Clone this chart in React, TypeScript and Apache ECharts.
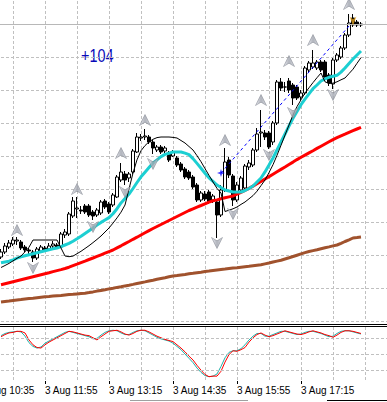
import React, { useEffect, useRef } from "react";
import * as echarts from "echarts";

// ---- layout of the time axis (5-minute bars) ----
const BAR_OFFSET = 5; // empty slots 10:35 .. 10:55 before the first visible bar
const SLOT_COUNT = 103;
const START_MINUTE = 10 * 60 + 35;
const categories = Array.from({ length: SLOT_COUNT }, (_, k) => {
  const t = START_MINUTE + 5 * k;
  const h = Math.floor(t / 60);
  const m = t % 60;
  return `3 Aug ${h}:${String(m).padStart(2, "0")}`;
});

// ---- candles (price in points) ----
const opens = [64,69,74,77,80,79,74,71,69,63,70,73,72,75,76,74,86,87,105,112,111,115,115,109,106,108,120,117,116,124,141,147,143,149,169,183,184,184,179,171,174,170,168,165,163,157,152,149,144,136,121,127,129,121,119,106,131,161,145,121,131,133,154,156,171,188,188,188,179,198,239,234,240,236,234,224,228,251,254,253,259,259,246,237,261,264,273,286,303,299,296];
const closes = [69,75,78,81,81,73,71,70,63,72,74,71,75,77,74,87,89,107,120,113,110,109,106,105,111,119,114,109,126,144,149,141,147,170,184,184,185,179,173,174,169,173,161,169,156,151,144,143,134,121,128,122,119,125,106,131,159,146,121,136,143,155,158,171,187,189,184,174,198,239,233,234,231,223,223,228,253,258,258,259,251,244,238,261,266,273,286,298,296,296,297];
const lows = [62,67,72,75,76,71,69,67,59,61,68,69,71,73,72,73,83,85,103,103,107,107,104,101,104,106,112,107,114,123,139,136,139,147,168,180,181,177,167,169,167,168,159,164,154,149,142,141,132,119,119,120,117,118,83,104,129,143,115,119,128,131,151,154,169,174,181,172,176,196,230,229,228,216,221,221,226,249,252,251,249,242,235,232,259,262,271,284,294,294,294];
const highs = [72,78,81,84,84,81,76,73,71,74,76,75,78,80,78,89,92,109,124,124,115,117,117,111,113,121,122,119,128,146,158,150,149,172,188,187,192,186,181,176,176,175,170,171,165,159,154,151,146,138,130,130,131,127,121,136,173,164,147,139,145,157,161,173,193,211,191,190,200,241,243,239,243,238,236,231,255,260,271,261,261,261,248,263,268,275,288,307,307,301,299];
const lastClose = 297;

// ---- moving averages ----
const maBlack = [53.5,55.5,57.6,60.1,62.7,65,69.2,73.8,81,81,81,81,81,81,81,73,65,64.3,64.9,67.3,69.7,72.5,75.3,78.4,81.6,85,89,93,97.9,103.1,108.8,116,132,148,161.2,170.3,175.4,179.2,181.7,183.4,184,184,184,183.6,183,180.5,178,174.5,171,165.3,159.3,152.4,145.7,139,132.6,128,109.5,110.8,112.2,114,116.6,119,122.2,125.4,129.8,135.4,141,148.4,156.3,165.7,175.7,185.9,196,206,214.4,221.2,228,233.2,238.4,243.3,248,239.2,237.6,237.8,239.2,241.2,243,247.4,251.8,257.7,263.4];
const maCyan = [58.2,59,59.8,61.2,62.8,64.2,65.2,66.2,67.2,68.2,69.2,70.2,71.2,72.2,73,74.4,76,77.6,79.8,82.2,84.7,87.5,90.3,93.1,95.9,98.6,101,103.4,107.3,112.3,118.1,122.5,126.9,132.5,138.5,144.2,148.8,153.4,158,161.2,164.4,166.6,167.8,169,169,169,167.9,166.4,162.4,157.6,152.8,147.8,143.1,139.6,136,133.5,131,130,129,129,129,130.5,132.5,135,139,143,149.1,155.9,163,171,179,187,195,202.7,209.5,216.3,221.9,227.1,232.3,236,240,242.1,243.7,244.7,245.7,248.9,253,257.6,262,266,270];
const maRed = [36.3,37.3,38.3,39.3,40.3,41.3,42.3,43.3,44.3,45.3,46.3,47.3,48.3,49.4,50.4,51.4,52.5,53.8,55.3,56.8,58.4,59.9,61.5,63,64.6,66.2,67.8,69.4,71,73.1,75.2,77.4,79.5,81.7,83.8,86,88.2,90.4,92.5,94.5,96.5,98.5,100.5,102.5,104.5,106.5,108.5,110.5,112.2,113.9,115.5,117.2,118.9,120.2,121.1,122.2,123.2,124.1,125,126.9,128.7,130.6,132.6,134.9,137.2,139.6,142,144.4,146.8,149.2,151.6,154,156.5,158.9,161.4,163.7,165.9,168.1,170.3,172.6,174.8,177,179.2,181.4,183.3,185.1,186.8,188.6,190.3,192,193.7];
const maBrown = [19.1,19.6,20,20.5,21,21.4,21.9,22.4,22.8,23.3,23.8,24.2,24.5,24.9,25.3,25.6,26,26.4,26.7,27.1,27.5,27.8,28.4,29.1,29.9,30.6,31.3,32.1,32.8,33.6,34.3,35.1,35.8,36.6,37.5,38.3,39.1,40,40.8,41.7,42.5,43.3,44.2,45,45.5,46.1,46.6,47.2,47.7,48.3,48.8,49.4,49.9,50.5,51,51.5,51.9,52.4,52.9,53.3,53.8,54.3,54.7,55.2,55.7,56.2,57.1,58,59,59.9,60.8,62,63.2,64.5,65.8,67.1,68.4,69.5,70.4,71.3,72.3,73.2,74.1,75.1,76,77.7,79.5,81.2,83,83.4,83.9];

// ---- oscillator (0..100) ----
const oscMain = [82,86,89,90,92,92,89,76,67,62,61,67,72,76,80,84,88,92,91,89,87,85,84,80,76,82,87,92,93,94,91,87,85,88,92,94,94,91,87,83,80,77,75,73,67,61,54,46,39,29,20,12,8,9,9,18,35,49,56,55,58,62,72,80,86,89,85,82,84,87,90,93,91,89,87,86,88,91,93,91,89,86,84,81,85,90,93,93,92,90,88];
const oscSignal = [84,88,90,91,92,91,83,71,64,61,63,70,74,78,82,86,90,92,90,88,86,84,82,78,79,85,90,93,94,93,89,86,86,90,93,94,93,89,85,81,78,76,74,70,64,58,50,42,34,24,16,10,8,9,13,27,43,53,56,56,60,67,76,83,88,88,83,83,86,89,92,92,90,88,86,87,90,92,92,90,88,85,82,83,88,92,93,93,91,89,87];
const oscLevels = [20, 50, 80];

// ---- markers ----
const upArrowBars = [4, 19, 30, 36, 56, 65, 72, 78, 87];
const upArrowLevels = [91, 132, 168, 201, 181, 221, 260, 281, 317];
const downArrowBars = [8, 23, 31, 38, 54, 58, 67, 73, 83];
const downArrowLevels = [53, 94, 129, 157, 78, 107, 166, 208, 226];
const goldArrowBars = [88];
const goldArrowLevels = [300];
const starBars = [55];
const starLevels = [148];
const trendBars = [55, 87];
const trendLevels = [148, 295];
const profitText = "+104";

const labelEvery = (i: number) => i % 16 === 0 && i <= 80;
const gridEvery = (i: number) => i % 8 === 0;

const pad = (arr: any[]) => [...Array(BAR_OFFSET).fill("-"), ...arr];
const pts = (bars: number[], levels: number[]) => bars.map((b, j) => [b + BAR_OFFSET, levels[j]]);

const UP_PATH = "path://M5 0 L10 10 L5 7 L0 10 Z";
const DOWN_PATH = "path://M0 0 L5 3 L10 0 L5 10 Z";
const STAR_PATH = "path://M5 0 L6.2 3.8 L10 5 L6.2 6.2 L5 10 L3.8 6.2 L0 5 L3.8 3.8 Z";

export default function App() {
  const ref = useRef<HTMLDivElement>(null);
  useEffect(() => {
    if (!ref.current) return;
    const chart = echarts.init(ref.current, undefined, { renderer: "svg" });
    const dash = { color: "#c0c0c0", type: [3, 2] as any, width: 1 };
    const arrowFill = new echarts.graphic.LinearGradient(0, 0, 1, 0, [
      { offset: 0, color: "#e4e6ee" },
      { offset: 0.5, color: "#9ea2ac" },
      { offset: 1, color: "#c8ccd4" },
    ]);
    const candleData = opens.map((o, i) => [o, closes[i], lows[i], highs[i]]);
    const option: any = {
      animation: false,
      backgroundColor: "#ffffff",
      grid: [
        { left: -19, top: -9, width: 408, height: 330, outerBoundsMode: "none", containLabel: false },
        { left: -19, top: 327, width: 408, height: 54, outerBoundsMode: "none", containLabel: false },
      ],
      xAxis: [
        {
          type: "category", gridIndex: 0, data: categories, boundaryGap: false,
          axisLine: { show: false }, axisTick: { show: false }, axisLabel: { show: false },
          splitLine: { show: true, interval: gridEvery, lineStyle: dash },
        },
        {
          type: "category", gridIndex: 1, data: categories, boundaryGap: false,
          axisLine: { show: false },
          axisTick: { show: true, interval: labelEvery, length: 3, lineStyle: { color: "#000" } },
          axisLabel: {
            show: true, interval: labelEvery, align: "left", margin: 4,
            fontSize: 10, fontFamily: "Liberation Sans, Arial, sans-serif", color: "#000",
          },
          splitLine: { show: true, interval: gridEvery, lineStyle: dash },
        },
      ],
      yAxis: [
        {
          type: "value", gridIndex: 0, min: 0, max: 330, interval: 33,
          axisLine: { show: false }, axisTick: { show: false }, axisLabel: { show: false },
          splitLine: { show: true, lineStyle: dash },
        },
        {
          type: "value", gridIndex: 1, min: 0, max: 100,
          axisLine: { show: false }, axisTick: { show: false }, axisLabel: { show: false },
          splitLine: { show: false },
        },
      ],
      series: [
        {
          type: "candlestick", xAxisIndex: 0, yAxisIndex: 0, data: pad(candleData),
          barWidth: 3,
          itemStyle: { color: "#ffffff", color0: "#000000", borderColor: "#000000", borderColor0: "#000000", borderWidth: 1 },
          markLine: {
            silent: true, symbol: ["none", "none"], label: { show: false },
            lineStyle: { color: "#b8b8b8", type: "solid", width: 1 },
            data: [{ yAxis: lastClose }],
          },
          z: 2,
        },
        { type: "line", xAxisIndex: 0, yAxisIndex: 0, data: pad(maBrown), showSymbol: false, symbol: "none", lineStyle: { color: "#A0522D", width: 3 }, z: 3 },
        { type: "line", xAxisIndex: 0, yAxisIndex: 0, data: pad(maRed), showSymbol: false, symbol: "none", lineStyle: { color: "#FF0000", width: 3 }, z: 3 },
        { type: "line", xAxisIndex: 0, yAxisIndex: 0, data: pad(maCyan), showSymbol: false, symbol: "none", lineStyle: { color: "#1ccfd2", width: 3 }, z: 3 },
        { type: "line", xAxisIndex: 0, yAxisIndex: 0, data: pad(maBlack), showSymbol: false, symbol: "none", lineStyle: { color: "#000000", width: 1 }, z: 4 },
        { type: "line", xAxisIndex: 0, yAxisIndex: 0, data: pts(trendBars, trendLevels), showSymbol: false, symbol: "none", lineStyle: { color: "#0000ff", width: 1, type: [3, 3] }, z: 4 },
        { type: "scatter", xAxisIndex: 0, yAxisIndex: 0, data: pts(upArrowBars, upArrowLevels), symbol: UP_PATH, symbolSize: [11, 11], itemStyle: { color: arrowFill, borderColor: "#7a7e88", borderWidth: 0.6 }, z: 5 },
        { type: "scatter", xAxisIndex: 0, yAxisIndex: 0, data: pts(downArrowBars, downArrowLevels), symbol: DOWN_PATH, symbolSize: [11, 11], itemStyle: { color: arrowFill, borderColor: "#7a7e88", borderWidth: 0.6 }, z: 5 },
        { type: "scatter", xAxisIndex: 0, yAxisIndex: 0, data: pts(goldArrowBars, goldArrowLevels), symbol: DOWN_PATH, symbolSize: [7, 9], itemStyle: { color: "#e0a020" }, z: 5 },
        { type: "scatter", xAxisIndex: 0, yAxisIndex: 0, data: pts(starBars, starLevels), symbol: STAR_PATH, symbolSize: [8, 8], itemStyle: { color: "#0000ff" }, z: 6 },
        {
          type: "line", xAxisIndex: 1, yAxisIndex: 1, data: pad(oscSignal), showSymbol: false, symbol: "none",
          lineStyle: { color: "#20B2AA", width: 1 }, z: 3,
          markLine: {
            silent: true, symbol: ["none", "none"], label: { show: false },
            lineStyle: { color: "#c0c0c0", type: [3, 2], width: 1 },
            data: oscLevels.map((v) => ({ yAxis: v })),
          },
        },
        { type: "line", xAxisIndex: 1, yAxisIndex: 1, data: pad(oscMain), showSymbol: false, symbol: "none", lineStyle: { color: "#FF0000", width: 1 }, z: 4 },
      ],
      graphic: [
        { type: "text", left: 81, top: 46, scaleX: 0.8, style: { text: profitText, fill: "#0808b8", fontSize: 18, fontFamily: "Liberation Sans, Arial, sans-serif" } },
        { type: "line", shape: { x1: 0, y1: 324.5, x2: 387, y2: 324.5 }, style: { stroke: "#000", lineWidth: 1 } },
        { type: "line", shape: { x1: 0, y1: 326.5, x2: 387, y2: 326.5 }, style: { stroke: "#000", lineWidth: 1 } },
        { type: "line", shape: { x1: 130, y1: 400.5, x2: 248, y2: 400.5 }, style: { stroke: "#a0a0a0", lineWidth: 1 } },
        { type: "line", shape: { x1: 327, y1: 400.5, x2: 387, y2: 400.5 }, style: { stroke: "#000", lineWidth: 1 } },
      ],
    };
    chart.setOption(option);
    return () => chart.dispose();
  }, []);
  return (
    <div
      ref={ref}
      style={{ position: "fixed", left: 0, top: 0, width: 387, height: 402, background: "#ffffff" }}
    />
  );
}
